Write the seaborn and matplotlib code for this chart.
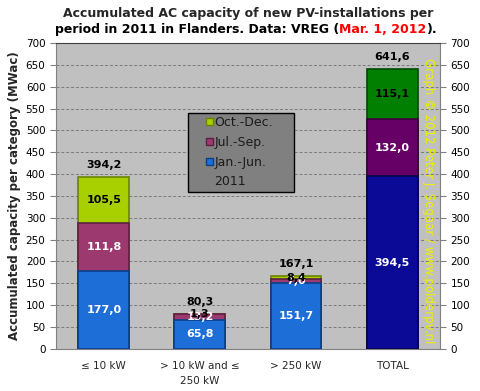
import numpy as np
import pandas as pd
import matplotlib
matplotlib.use("Agg")
import matplotlib.pyplot as plt
import seaborn as sns
from matplotlib.patches import Patch, Rectangle

# data (MWac)
categories = ["≤ 10 kW", "> 10 kW and ≤\n250 kW", "> 250 kW", "TOTAL"]
jan_jun = [177.0, 65.8, 151.7, 394.5]
jul_sep = [111.8, 13.2, 7.0, 132.0]
oct_dec = [105.5, 1.3, 8.4, 115.1]
totals = [394.2, 80.3, 167.1, 641.6]
periods = ["Jan.-Jun.", "Jul.-Sep.", "Oct.-Dec."]

# colours: normal bars and the darker TOTAL bar
col_jan = ["#1E6ED8", "#1E6ED8", "#1E6ED8", "#0A0A96"]
col_jul = ["#9C3A70", "#9C3A70", "#9C3A70", "#660066"]
col_oct = ["#A8D000", "#A8D000", "#A8D000", "#007F00"]
edge_jan = ["#0A3F8A", "#0A3F8A", "#0A3F8A", "#05054F"]
edge_jul = ["#5E1F42", "#5E1F42", "#5E1F42", "#3A003A"]
edge_oct = ["#6A8400", "#6A8400", "#6A8400", "#004A00"]

df = pd.DataFrame({"cat": categories, "jan": jan_jun, "jul": jul_sep, "oct": oct_dec})
df["c2"] = df["jan"] + df["jul"]
df["c3"] = df["c2"] + df["oct"]

sns.set_style("white")
plt.rcParams["font.family"] = ["DejaVu Sans"]

fig = plt.figure(figsize=(4.81, 3.91), dpi=100)
fig.patch.set_facecolor("white")
ax = fig.add_axes([0.116, 0.108, 0.799, 0.782])
ax.set_facecolor("#C0C0C0")

# stacked bars drawn as overlapping cumulative layers
for col, cols, edges in [("c3", col_oct, edge_oct), ("c2", col_jul, edge_jul), ("jan", col_jan, edge_jan)]:
    sns.barplot(data=df, x="cat", y=col, hue="cat", palette=cols, legend=False,
                width=0.53, ax=ax, zorder=3, saturation=1)
    for p, e in zip(ax.patches[-4:], edges):
        p.set_edgecolor(e)
        p.set_linewidth(1.2)

ax.set_ylim(0, 700)
ax.set_xlim(-0.5, 3.5)
ax.set_yticks(np.arange(0, 701, 50))
ax.yaxis.grid(True, color="#7A7A7A", linestyle=(0, (3, 2)), linewidth=0.7, zorder=0)
ax.set_axisbelow(True)

# value labels
fmt = lambda v: f"{v:.1f}".replace(".", ",")
for i in range(4):
    ax.text(i, jan_jun[i] / 2, fmt(jan_jun[i]), ha="center", va="center",
            color="white", fontsize=8, fontweight="bold", zorder=5)
    ax.text(i, jan_jun[i] + jul_sep[i] / 2, fmt(jul_sep[i]), ha="center", va="center",
            color="white", fontsize=8, fontweight="bold", zorder=5)
    ax.text(i, jan_jun[i] + jul_sep[i] + oct_dec[i] / 2, fmt(oct_dec[i]), ha="center", va="center",
            color="black", fontsize=8, fontweight="bold", zorder=5)
    ax.annotate(fmt(totals[i]), xy=(i, totals[i]), xytext=(0, 8.5), textcoords="offset points",
                ha="center", va="center", color="black", fontsize=8, fontweight="bold", zorder=5)

# axes styling
for s in ["left", "right", "bottom", "top"]:
    ax.spines[s].set_visible(True)
    ax.spines[s].set_color("#808080")
ax.spines["top"].set_color("#404040")
ax.tick_params(axis="y", which="both", left=True, right=True, labelleft=True, labelright=True,
               length=4, color="#808080", labelsize=7.5, labelcolor="black", direction="out")
ax.set_xticks(range(4))
ax.set_xticklabels(categories, fontsize=7.5, linespacing=1.6)
ax.set_xticks(np.arange(-0.5, 4, 1), minor=True)
ax.tick_params(axis="x", which="major", length=0, pad=9)
ax.tick_params(axis="x", which="minor", length=5, color="#808080", direction="out")
ax.set_xlabel("")
ax.set_ylabel("Accumulated capacity per category (MWac)", fontsize=8.5, fontweight="bold", labelpad=3)

# legend: grey box drawn separately, entries placed inside it
ax.add_patch(Rectangle((0.343, 0.513), 0.278, 0.258, transform=ax.transAxes,
                       facecolor="#808080", edgecolor="black", linewidth=1, zorder=6))
handles = [Patch(facecolor=col_oct[0], edgecolor=edge_oct[0]),
           Patch(facecolor=col_jul[0], edgecolor=edge_jul[0]),
           Patch(facecolor=col_jan[0], edgecolor=edge_jan[0]),
           Patch(facecolor="none", edgecolor="none")]
labels = [periods[2], periods[1], periods[0], "2011"]
leg = ax.legend(handles, labels, loc="upper left", bbox_to_anchor=(0.392, 0.762),
                fontsize=9, frameon=False, handlelength=0.5, handleheight=0.5,
                handletextpad=0.15, borderpad=0, labelspacing=0.55, borderaxespad=0)
leg.set_zorder(7)
for t in leg.get_texts():
    t.set_color("#1A1A1A")

# watermark
ax.text(0.969, 0.485, "Graph © 2012 Peter J. Segaar / www.polderpv.nl", transform=ax.transAxes,
        rotation=-90, ha="center", va="center", color="#F0F000", fontsize=8.5, zorder=6)

# title, second line has a red date
fig.text(0.515, 0.957, "Accumulated AC capacity of new PV-installations per",
         ha="center", va="baseline", fontsize=9.0, fontweight="bold")
fig.canvas.draw()
r = fig.canvas.get_renderer()
parts = [("period in 2011 in Flanders. Data: VREG (", "black"), ("Mar. 1, 2012", "red"), (").", "black")]
tx = [fig.text(0, 0.915, s, ha="left", va="baseline", fontsize=9.0, fontweight="bold", color=c) for s, c in parts]
widths = [t.get_window_extent(r).width for t in tx]
x0 = 246 - sum(widths) / 2
for t, w in zip(tx, widths):
    t.set_x(x0 / fig.bbox.width)
    x0 += w

fig.savefig("out.png", dpi=100)
